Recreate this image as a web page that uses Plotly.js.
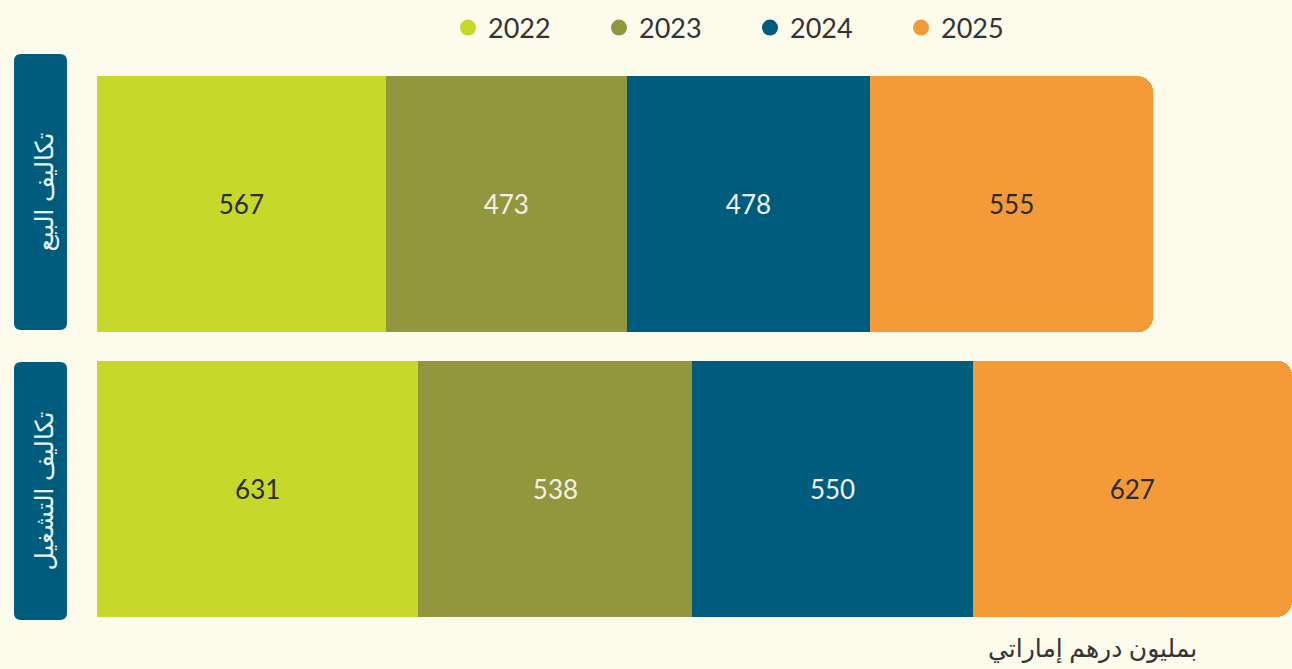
<!DOCTYPE html>
<html>
<head>
<meta charset="utf-8">
<script src="https://cdn.plot.ly/plotly-3.0.1.min.js"></script>
<style>
html,body{margin:0;padding:0;background:#fcfbec;}
#chart{width:1292px;height:669px;}
</style>
</head>
<body>
<div id="chart"></div>
<script>
// ---- data ----
const categories = ['تكاليف البيع', 'تكاليف التشغيل'];
const years = ['2022', '2023', '2024', '2025'];
const values2022 = [567, 631];
const values2023 = [473, 538];
const values2024 = [478, 550];
const values2025 = [555, 627];
const unitLabel = 'بمليون درهم إماراتي';

const series = [values2022, values2023, values2024, values2025];
const colors = ['#c6d92b', '#91963f', '#005c7d', '#f59a38'];
const textColors = ['#2b2b2b', '#f3f1e2', '#eef3f2', '#2b2b2b'];

const W = 1292, H = 669;
const M = {l: 97, r: 0, t: 62, b: 38};
const PW = W - M.l - M.r, PH = H - M.t - M.b;
const px2x = p => (p - M.l) / PW;
const py2y = p => (H - M.b - p) / PH;

const traces = [];
series.forEach((vals, i) => {
  traces.push({
    type: 'bar', orientation: 'h',
    y: categories, x: vals,
    name: years[i],
    marker: {color: colors[i], line: {width: 0}},
    text: vals.map(String),
    textposition: 'inside',
    insidetextanchor: 'middle',
    textfont: {family: 'Lato, Inter, sans-serif', size: 26, color: textColors[i]},
    hoverinfo: 'none',
    showlegend: false
  });
});
// legend entries with circle symbols
years.forEach((yr, i) => {
  traces.push({
    type: 'scatter', mode: 'markers',
    x: [null], y: [null],
    name: yr,
    marker: {color: colors[i], size: 22, symbol: 'circle'},
    showlegend: true, hoverinfo: 'none'
  });
});

function roundedRect(x0, y0, x1, y1, r) {
  const X = px2x, Y = py2y;
  return `M ${X(x0 + r)} ${Y(y0)} L ${X(x1 - r)} ${Y(y0)} Q ${X(x1)} ${Y(y0)} ${X(x1)} ${Y(y0 + r)} ` +
         `L ${X(x1)} ${Y(y1 - r)} Q ${X(x1)} ${Y(y1)} ${X(x1 - r)} ${Y(y1)} ` +
         `L ${X(x0 + r)} ${Y(y1)} Q ${X(x0)} ${Y(y1)} ${X(x0)} ${Y(y1 - r)} ` +
         `L ${X(x0)} ${Y(y0 + r)} Q ${X(x0)} ${Y(y0)} ${X(x0 + r)} ${Y(y0)} Z`;
}

const boxes = [[14, 54, 67, 330], [14, 362, 67, 620]];
const shapes = boxes.map(b => ({
  type: 'path', xref: 'paper', yref: 'paper',
  path: roundedRect(b[0], b[1], b[2], b[3], 7),
  fillcolor: '#005c7d', line: {width: 0}, layer: 'above'
}));

const annotations = categories.map((c, i) => ({
  xref: 'paper', yref: 'paper',
  x: px2x((boxes[i][0] + boxes[i][2]) / 2 + 2),
  y: py2y((boxes[i][1] + boxes[i][3]) / 2),
  text: c, showarrow: false, textangle: -90,
  xanchor: 'center', yanchor: 'middle',
  font: {family: 'Noto Sans, DejaVu Sans, sans-serif', size: 25, color: '#e8f3f6'}
}));
annotations.push({
  xref: 'paper', yref: 'paper',
  x: px2x(1092), y: py2y(647),
  text: unitLabel, showarrow: false,
  xanchor: 'center', yanchor: 'middle',
  font: {family: 'Noto Sans, DejaVu Sans, sans-serif', size: 25, color: '#333333'}
});

const layout = {
  width: W, height: H,
  margin: M,
  paper_bgcolor: '#fcfbec', plot_bgcolor: 'rgba(0,0,0,0)',
  barmode: 'stack', bargap: 0.1,
  barcornerradius: 15,
  xaxis: {range: [0, 2346], visible: false, fixedrange: true},
  yaxis: {type: 'category', autorange: 'reversed', visible: false, fixedrange: true},
  showlegend: true,
  legend: {
    orientation: 'h', traceorder: 'normal', xref: 'container', yref: 'container',
    x: 448 / W, xanchor: 'left', y: 1 - 28 / H, yanchor: 'middle',
    font: {family: 'Lato, Inter, sans-serif', size: 27, color: '#333333'},
    entrywidth: 106, entrywidthmode: 'pixels',
    bgcolor: 'rgba(0,0,0,0)', itemclick: false, itemdoubleclick: false
  },
  shapes: shapes,
  annotations: annotations
};

Plotly.newPlot('chart', traces, layout, {displayModeBar: false, staticPlot: true});
</script>
</body>
</html>
